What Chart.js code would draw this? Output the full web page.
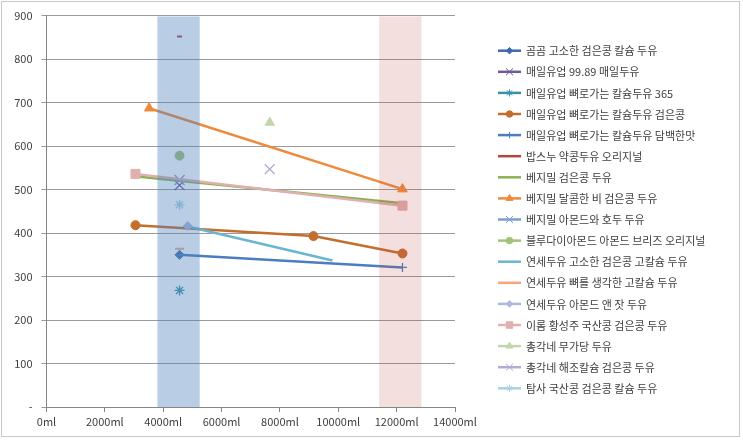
<!DOCTYPE html>
<html>
<head>
<meta charset="utf-8">
<script src="https://cdn.jsdelivr.net/npm/chart.js"></script>
<style>
  body { margin: 0; background: #fff; }
  #wrap { width: 743px; height: 441px; }
</style>
</head>
<body>
<div id="wrap"><canvas id="volumeChart" width="743" height="441"></canvas></div>
<script>
// Series names (legend order)
var seriesNames = [
    '곰곰 고소한 검은콩 칼슘 두유',
    '매일유업 99.89 매일두유',
    '매일유업 뼈로가는 칼슘두유 365',
    '매일유업 뼈로가는 칼슘두유 검은콩',
    '매일유업 뼈로가는 칼슘두유 담백한맛',
    '밥스누 약콩두유 오리지널',
    '베지밀 검은콩 두유',
    '베지밀 달콤한 비 검은콩 두유',
    '베지밀 아몬드와 호두 두유',
    '블루다이아몬드 아몬드 브리즈 오리지널',
    '연세두유 고소한 검은콩 고칼슘 두유',
    '연세두유 뼈를 생각한 고칼슘 두유',
    '연세두유 아몬드 앤 잣 두유',
    '이롬 황성주 국산콩 검은콩 두유',
    '총각네 무가당 두유',
    '총각네 해조칼슘 검은콩 두유',
    '탐사 국산콩 검은콩 칼슘 두유'
];

// Package volume (ml) and value per series
var seriesX = [
    [4560],
    [4560],
    [4560],
    [3050, 9150, 12200],
    [4560, 12200],
    [4560],
    [3100, 12100],
    [3520, 12200],
    [4560],
    [4560],
    [4840, 9800],
    [4560],
    [4840],
    [3050, 12200],
    [7650],
    [7650],
    [4560]
];
var seriesY = [
    [350],
    [510],
    [268],
    [418, 393, 353],
    [350, 321],
    [852],
    [530, 469],
    [687, 501],
    [522],
    [578],
    [415, 337],
    [364],
    [416],
    [536, 463],
    [654],
    [547],
    [465]
];

// Highlight bands (ml)
var bandStart = [3800, 11400];
var bandEnd = [5250, 12850];
var bandTop = 898;

var xTicks = [0, 2000, 4000, 6000, 8000, 10000, 12000, 14000];

// Styles
var colors = ['#3d69ae', '#6f5a98', '#3892a8', '#c46e2c', '#4d7cc0', '#b8443f', '#8ab14f', '#ef8a3a',
    '#7c9cd2', '#a3c177', '#6ab6d2', '#f4a878', '#aab9dc', '#e0b0b0', '#c3d6ab', '#b5aad2', '#a9d2e2'];
var markers = ['rectRot', 'crossRot', 'star', 'circle', 'cross', 'line', false, 'triangle',
    'crossRot', 'circle', false, 'line', 'rectRot', 'rect', 'triangle', 'crossRot', 'star'];
var markerSize = [4.5, 7, 5, 4.5, 4.5, 2.5, 0, 5.5, 7, 4.5, 0, 4.5, 4.5, 6.4, 5.5, 7, 5];
var bandColors = ['rgba(79, 129, 189, 0.4)', 'rgba(192, 80, 77, 0.18)'];
var fontFamily = '"Noto Sans CJK KR", "Noto Sans", sans-serif';

var datasets = [];
for (i = 0; i < seriesNames.length; i++) {
    var pts = [];
    for (j = 0; j < seriesX[i].length; j++) {
        pts.push({ x: seriesX[i][j], y: seriesY[i][j] });
    }
    var stroked = markers[i] === 'cross' || markers[i] === 'crossRot' || markers[i] === 'star' || markers[i] === 'line';
    datasets.push({
        label: seriesNames[i],
        data: pts,
        showLine: true,
        borderColor: colors[i],
        backgroundColor: colors[i],
        borderWidth: 2.5,
        pointStyle: markers[i] || 'circle',
        pointRadius: markers[i] ? markerSize[i] : 0,
        pointBorderWidth: markers[i] === 'line' ? 2 : (stroked ? 1.3 : 1),
        pointBackgroundColor: colors[i],
        pointBorderColor: colors[i],
        order: seriesNames.length - i
    });
}

// Background, bands (drawn over the series like the original) and legend
var decorPlugin = {
    id: 'decor',
    beforeDraw: function (chart) {
        var ctx = chart.ctx;
        ctx.save();
        ctx.fillStyle = '#ffffff';
        ctx.fillRect(0, 0, chart.width, chart.height);
        ctx.strokeStyle = '#c8c8c8';
        ctx.lineWidth = 1;
        ctx.strokeRect(1.5, 1.5, 738, 435);
        ctx.restore();
    },
    afterDatasetsDraw: function (chart) {
        var ctx = chart.ctx;
        var xs = chart.scales.x, ys = chart.scales.y;
        ctx.save();
        for (var b = 0; b < bandStart.length; b++) {
            var x0 = xs.getPixelForValue(bandStart[b]);
            var x1 = xs.getPixelForValue(bandEnd[b]);
            var y0 = ys.getPixelForValue(bandTop);
            var y1 = ys.getPixelForValue(0);
            ctx.fillStyle = bandColors[b];
            ctx.fillRect(x0, y0, x1 - x0, y1 - y0);
        }
        ctx.restore();
    },
    afterDraw: function (chart) {
        var ctx = chart.ctx;
        ctx.save();
        ctx.font = '11px ' + fontFamily;
        ctx.textBaseline = 'middle';
        for (var k = 0; k < seriesNames.length; k++) {
            var y = 50.7 + k * 21.1;
            ctx.strokeStyle = colors[k];
            ctx.lineWidth = 2.5;
            ctx.beginPath();
            ctx.moveTo(498, y);
            ctx.lineTo(521, y);
            ctx.stroke();
            if (markers[k] && markers[k] !== 'line' && Chart.helpers && Chart.helpers.drawPoint) {
                ctx.fillStyle = colors[k];
                ctx.lineWidth = 1;
                Chart.helpers.drawPoint(ctx, {
                    pointStyle: markers[k],
                    radius: markerSize[k] * 0.72,
                    borderWidth: 1,
                    rotation: 0
                }, 509.5, y);
            }
            ctx.fillStyle = '#404040';
            ctx.fillText(seriesNames[k], 526, y + 0.5);
        }
        ctx.restore();
    }
};

var ctxVolume = document.getElementById('volumeChart').getContext('2d');
var volumeChart = new Chart(ctxVolume, {
    type: 'scatter',
    data: { datasets: datasets },
    plugins: [decorPlugin],
    options: {
        responsive: false,
        animation: false,
        layout: {
            padding: { left: 0, top: 14, right: 288, bottom: 4 }
        },
        plugins: {
            legend: { display: false },
            tooltip: { enabled: false }
        },
        scales: {
            x: {
                type: 'linear',
                min: 0,
                max: 14000,
                afterFit: function (scale) { scale.height = 30; },
                afterBuildTicks: function (scale) {
                    scale.ticks = xTicks.map(function (v) { return { value: v }; });
                },
                ticks: {
                    color: '#404040',
                    font: { family: fontFamily, size: 11 },
                    padding: 3,
                    maxRotation: 0,
                    callback: function (v) { return v + 'ml'; }
                },
                grid: { drawOnChartArea: false, drawTicks: true, tickLength: 5, color: '#868686' },
                border: { display: true, color: '#868686' }
            },
            y: {
                min: 0,
                max: 900,
                afterFit: function (scale) { scale.width = 46.5; },
                ticks: {
                    stepSize: 100,
                    color: '#404040',
                    font: { family: fontFamily, size: 11 },
                    padding: 9,
                    callback: function (v) { return v === 0 ? '-' : v; }
                },
                grid: { color: '#9a9a9a', tickLength: 5, drawTicks: true },
                border: { display: true, color: '#868686' }
            }
        }
    }
});
</script>
</body>
</html>
